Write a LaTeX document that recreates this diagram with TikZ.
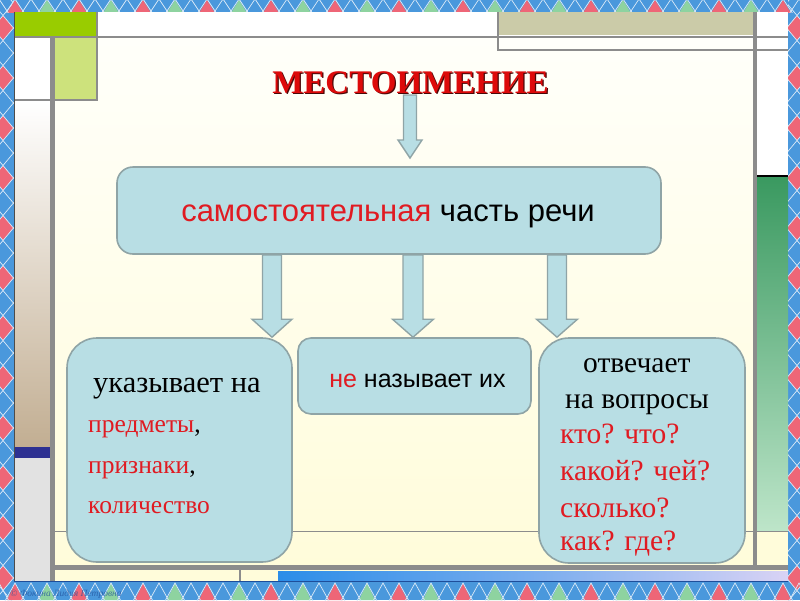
\documentclass[tikz,border=0pt]{standalone}
\usepackage{fontspec}
\setmainfont{Liberation Serif}
\newfontfamily\arialf{Liberation Sans}
\usetikzlibrary{calc}
\definecolor{bordblue}{HTML}{4A98DC}
\definecolor{bpink}{HTML}{EE6677}
\definecolor{bgreen}{HTML}{8ED3A0}
\definecolor{lgreenbar}{HTML}{99CC00}
\definecolor{lgreenbox}{HTML}{CDE27C}
\definecolor{khaki}{HTML}{CBCBA8}
\definecolor{gline}{HTML}{8C8C8C}
\definecolor{creamtop}{HTML}{FFFFFA}
\definecolor{creambot}{HTML}{FFFCDA}
\definecolor{tancol}{HTML}{C2AE92}
\definecolor{navy}{HTML}{2E3192}
\definecolor{lgray}{HTML}{E2E2E2}
\definecolor{dgreen}{HTML}{3A9960}
\definecolor{pgreen}{HTML}{BDE5C9}
\definecolor{barblue}{HTML}{2B8DE8}
\definecolor{barlav}{HTML}{D9D3F5}
\definecolor{boxfill}{HTML}{B8DEE4}
\definecolor{boxline}{HTML}{8FA4A6}
\definecolor{redtxt}{HTML}{E01B22}
\definecolor{titlered}{HTML}{DD0A0A}
\definecolor{titleshadow}{HTML}{4A0808}
\definecolor{sigblue}{HTML}{1E4E9A}
\tikzset{
  wline/.style={draw=white!80!bordblue, line width=0.7pt},
  box/.style={draw=boxline, fill=boxfill, line width=1.6pt, inner sep=0pt},
  barrow/.style={draw=boxline, fill=boxfill, line width=1.4pt, line join=miter},
  serift/.style={inner sep=0pt, anchor=base west, font=\fontsize{29.5}{34}\selectfont},
  redserif/.style={inner sep=0pt, anchor=base west, font=\fontsize{25.5}{30}\selectfont},
}
\newcommand\blockarrow[6]{%
  \filldraw[barrow] let \p1=(#2), \p2=(#3) in
   (#1pt-#4pt,\y1) -- (#1pt-#4pt,\y2+#6pt) -- (#1pt-#5pt,\y2+#6pt) -- (#1pt,\y2)
   -- (#1pt+#5pt,\y2+#6pt) -- (#1pt+#4pt,\y2+#6pt) -- (#1pt+#4pt,\y1) -- cycle;}
\newcommand\sidepattern{%
  \foreach \k in {0,...,11} {\fill[bpink] (3,28+50*\k-12.5) -- (13.42,28+50*\k) -- (3,28+50*\k+12.5) -- (-7.42,28+50*\k) -- cycle;}
  \foreach \k in {-2,...,25} {
    \draw[wline] (-2,19.1+25*\k+2.4) -- (16,19.1+25*\k-19.2);
    \draw[wline] (-2,11.9+25*\k-2.4) -- (16,11.9+25*\k+19.2);}
}
\begin{document}
\begin{tikzpicture}[x=1pt,y=-1pt]
\useasboundingbox (0,0) rectangle (800,600);
% border background
\fill[bordblue] (0,0) rectangle (800,600);
\begin{scope}
  \clip (0,0) rectangle (14,600);
  \sidepattern
\end{scope}
\begin{scope}[shift={(800,0)}, xscale=-1]
  \clip (0,0) rectangle (12,600);
  \sidepattern
\end{scope}
\begin{scope}
  \clip (0,0) rectangle (800,12);
  \foreach \k in {0,...,12} {
    \fill[bpink] (15+64*\k-8,13) -- (15+64*\k,0) -- (15+64*\k+8,13) -- cycle;
    \fill[bgreen] (47+64*\k-8,13) -- (47+64*\k,0) -- (47+64*\k+8,13) -- cycle;}
  \foreach \k in {-1,...,50} {\draw[wline] (15+16*\k-10,14) -- (15+16*\k,-1) -- (15+16*\k+10,14);}
\end{scope}
\begin{scope}
  \clip (0,582) rectangle (800,600);
  \foreach \k in {0,...,12} {
    \fill[bpink] (15+64*\k-8,600) -- (15+64*\k,583) -- (15+64*\k+8,600) -- cycle;
    \fill[bgreen] (47+64*\k-8,600) -- (47+64*\k,583) -- (47+64*\k+8,600) -- cycle;}
  \foreach \k in {-1,...,50} {\draw[wline] (15+16*\k-10,601) -- (15+16*\k,583) -- (15+16*\k+10,601);}
\end{scope}
% slide frame
\fill[white] (14,12) rectangle (788,581);
\fill[top color=creamtop, bottom color=creambot] (55,37) rectangle (753,566);
\fill[lgreenbar] (14,12) rectangle (97,36);
\fill[khaki] (498,12) rectangle (753,35);
\fill[gline] (14,35.5) rectangle (788,37.5);
\fill[lgreenbox] (55,38) rectangle (97,100);
\draw[gline, line width=1.5pt] (97,12) -- (97,100) -- (14,100);
\fill[top color=white, bottom color=tancol] (14,101) rectangle (50,447);
\fill[navy] (14,447) rectangle (50,458);
\fill[lgray] (14,458) rectangle (50,581);
\fill[gline] (50,37) rectangle (55,581);
\draw[black!70, line width=0.8pt] (14,12) -- (14,581);
\draw[gline, line width=1.2pt] (498,12) -- (498,50) -- (788,50);
\fill[gline] (753,12) rectangle (757,566);
\draw[black, line width=1.5pt] (757,176) -- (788,176);
\fill[top color=dgreen, bottom color=pgreen] (757,177) rectangle (788,530);
\fill[creambot] (757,531) rectangle (788,566);
\draw[gline, line width=1pt] (55,531) -- (788,531);
\fill[gline] (55,565) rectangle (788,570);
\fill[creambot] (55,570) rectangle (788,581);
\draw[gline, line width=1.2pt] (240,570) -- (240,581);
\fill[left color=barblue, right color=barlav, middle color=barblue!55!barlav] (278,571) rectangle (788,580);
\draw[sigblue, line width=1pt] (14,581.5) -- (788,581.5);
\node[anchor=base west, inner sep=0pt, font=\itshape\fontsize{9.5}{10}\selectfont, text=sigblue, opacity=0.7] (sig) at (10,596) {© Фокина Лидия Петровна};
% title
\node[anchor=base, inner sep=0pt, font=\bfseries\fontsize{33}{38}\selectfont, text=titleshadow] (titleshadow) at (411.7,94.3) {МЕСТОИМЕНИЕ};
\node[anchor=base, inner sep=0pt, font=\bfseries\fontsize{33}{38}\selectfont, text=titlered] (title) at (410.5,93) {МЕСТОИМЕНИЕ};
% boxes
\node[box, rounded corners=16pt, minimum width=544, minimum height=87] (main) at (389,210.5) {};
\node[box, rounded corners=30pt, minimum width=225, minimum height=224] (left) at (179.5,450) {};
\node[box, rounded corners=13pt, minimum width=233, minimum height=76] (mid) at (414.5,376) {};
\node[box, rounded corners=30pt, minimum width=206, minimum height=225] (right) at (642,450.5) {};
% arrows
\coordinate (t0) at (410,95);
\coordinate (t0e) at (410,158);
\blockarrow{410}{t0}{t0e}{6.5}{12}{18}
\blockarrow{272}{main.south}{left.north}{9.5}{20}{18}
\blockarrow{413}{main.south}{mid.north}{10}{20.5}{18}
\blockarrow{557}{main.south}{right.north}{9.5}{20.5}{18}
% texts
\node[anchor=base, inner sep=0pt, font=\arialf\fontsize{31}{36}\selectfont] (maintxt) at (388,221) {\textcolor{redtxt}{самостоятельная} часть речи};
\node[anchor=base, inner sep=0pt, font=\arialf\fontsize{25}{30}\selectfont] (midtxt) at (417.5,387) {\textcolor{redtxt}{не} называет их};
\node[serift, font=\fontsize{30.5}{34}\selectfont] (l1) at (93,392) {указывает на};
\node[redserif] (l2) at (88,432) {\textcolor{redtxt}{предметы},};
\node[redserif] (l3) at (88,473) {\textcolor{redtxt}{признаки},};
\node[redserif, text=redtxt] (l4) at (88,513) {количество};
\node[serift] (r1) at (583,372) {отвечает};
\node[serift] (r2) at (565,408) {на вопросы};
\node[serift, text=redtxt] (r3) at (560,443) {кто? что?};
\node[serift, text=redtxt] (r4) at (560,480) {какой? чей?};
\node[serift, text=redtxt] (r5) at (560,517) {сколько?};
\node[serift, text=redtxt] (r6) at (560,550) {как? где?};
\end{tikzpicture}
\end{document}
